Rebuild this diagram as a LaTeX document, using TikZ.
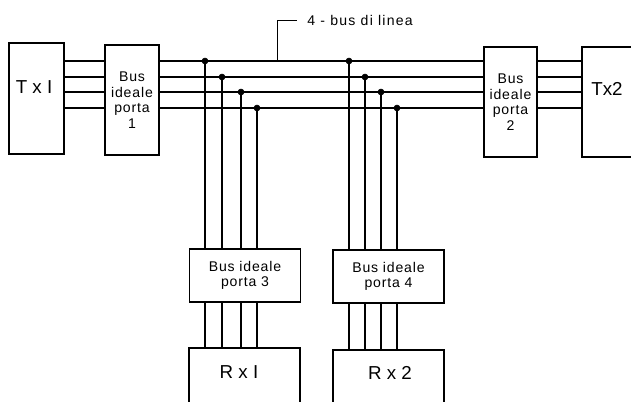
\documentclass[tikz,border=0pt]{standalone}
\usepackage{fontspec}
\setmainfont{Liberation Sans}
\usepackage{tikz}
\usetikzlibrary{arrows.meta, calc}

\begin{document}
\begin{tikzpicture}[x=0.03cm, y=-0.03cm,
    box/.style={draw, line width=1.4pt, inner sep=0pt, align=center,
        font=\fontsize{12}{13.2}\selectfont\addfontfeature{LetterSpace=6}},
    big/.style={font=\fontsize{16}{19}\selectfont},
    wire/.style={line width=1pt},
    dot/.style={fill=black}]
    \clip (0,0) rectangle (631,402);
    % transmitters and ideal bus ports
    \node[box, minimum width=1.65cm, minimum height=3.33cm] (tx1) at (36.5,98.5) {};
    \node[big] (tx1txt) at (34,87) {T x I};
    \node[box, minimum width=1.62cm, minimum height=3.3cm] (bus1) at (132,100) {Bus\\ideale\\porta\\1};
    \node[box, minimum width=1.59cm, minimum height=3.3cm] (bus2) at (510.5,102) {Bus\\ideale\\porta\\2};
    \node[box, minimum width=2.94cm, minimum height=3.3cm] (tx2) at (631,102) {};
    \node[big] (tx2txt) at (607,89) {Tx2};
    % receivers
    \node[box, minimum width=3.33cm, minimum height=1.59cm] (bus3) at (245,275.5) {Bus ideale\\porta 3};
    \node[box, minimum width=3.33cm, minimum height=1.59cm] (bus4) at (388.5,276.5) {Bus ideale\\porta 4};
    \node[box, minimum width=3.33cm, minimum height=2.16cm] (rx1) at (244.5,384) {};
    \node[big] (rx1txt) at (239,372) {R x I};
    \node[box, minimum width=3.33cm, minimum height=2.1cm] (rx2) at (388.5,385) {};
    \node[big] (rx2txt) at (390,373) {R x 2};
    % the four bus lines
    \foreach \i/\y/\xa/\xb in {1/61/205/349, 2/77/222/365, 3/92/241/381, 4/108/257/397} {
        \coordinate (l\i) at (0,\y);
        \draw[wire] (tx1.east |- l\i) -- (bus1.west |- l\i);
        \draw[wire] (bus1.east |- l\i) -- (bus2.west |- l\i);
        \draw[wire] (bus2.east |- l\i) -- (tx2.west |- l\i);
        \coordinate (a\i) at (\xa,\y);
        \coordinate (b\i) at (\xb,\y);
        \draw[dot] (a\i) circle[radius=2.6pt];
        \draw[dot] (b\i) circle[radius=2.6pt];
        \draw[wire] (a\i) -- (a\i |- bus3.north);
        \draw[wire] (b\i) -- (b\i |- bus4.north);
        \draw[wire] (a\i |- bus3.south) -- (a\i |- rx1.north);
        \draw[wire] (b\i |- bus4.south) -- (b\i |- rx2.north);
    }
    % label of the line bus
    \coordinate (tap) at (277,61);
    \draw[line width=0.8pt] (tap) -- (277,20) -- (297,20)
        node[right, inner sep=0pt, xshift=0.3cm,
            font=\fontsize{12}{14}\selectfont\addfontfeature{LetterSpace=9}] (lbl) {4 - bus di linea};
\end{tikzpicture}
\end{document}
